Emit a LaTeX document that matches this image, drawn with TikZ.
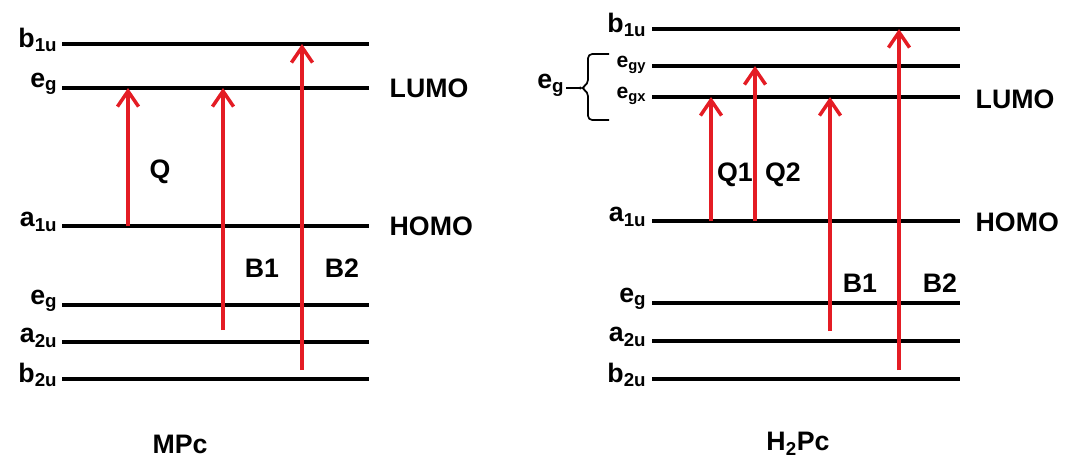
\documentclass[tikz,border=0pt]{standalone}
\usepackage{fontspec}
\setmainfont{Liberation Sans}
\usepackage{xcolor}
\usetikzlibrary{arrows.meta}

\definecolor{excred}{RGB}{228,28,36}

\tikzset{
  level/.style={line width=2.6pt, black},
  exc/.style={line width=2.5pt, draw=excred, -{Straight Barb[length=11pt, width=15pt]}},
  lab/.style={font=\fontsize{19}{22}\selectfont\bfseries, inner sep=1pt},
  smalllab/.style={font=\fontsize{15}{18}\selectfont\bfseries, inner sep=1pt},
}

\begin{document}
\begin{tikzpicture}[x=0.025cm, y=-0.025cm]
  \useasboundingbox (0,0) rectangle (1069,460);

  % MPc levels
  \foreach \n/\y/\t in {b1u/44/b\textsubscript{1u}, eg/88/e\textsubscript{g}, a1u/226/a\textsubscript{1u},
                        egl/305/e\textsubscript{g}, a2u/342/a\textsubscript{2u}, b2u/379/b\textsubscript{2u}} {
    \draw[level] (62,\y) coordinate (m\n) -- (369,\y);
    \node (ml\n) [lab, anchor=east, yshift=3pt] at (59,\y) {\t};
  }
  \node (mlumo) [lab, anchor=west] at (388,88) {LUMO};
  \node (mhomo) [lab, anchor=west] at (388,226) {HOMO};

  \coordinate (mQs) at (128,226);  \coordinate (mQe) at (128,88);
  \coordinate (mB1s) at (223,330); \coordinate (mB1e) at (223,88);
  \coordinate (mB2s) at (302,370); \coordinate (mB2e) at (302,44);
  \draw[exc] (mQs) -- (mQe);
  \draw[exc] (mB1s) -- (mB1e);
  \draw[exc] (mB2s) -- (mB2e);
  \node (mq) [lab] at (160,172) {Q};
  \node (mb1) [lab] at (262,268) {B1};
  \node (mb2) [lab] at (342,268) {B2};
  \node (mpc) [lab] at (180,444) {MPc};

  % H2Pc levels
  \foreach \n/\y/\t in {b1u/29/b\textsubscript{1u}, a1u/221/a\textsubscript{1u},
                        egl/303/e\textsubscript{g}, a2u/341/a\textsubscript{2u}, b2u/379/b\textsubscript{2u}} {
    \draw[level] (652,\y) coordinate (h\n) -- (960,\y);
    \node (hl\n) [lab, anchor=east, yshift=3pt] at (648,\y) {\t};
  }
  \foreach \n/\y/\t in {egy/66/e\textsubscript{gy}, egx/97/e\textsubscript{gx}} {
    \draw[level] (652,\y) coordinate (h\n) -- (960,\y);
    \node (hl\n) [smalllab, anchor=east, yshift=1pt] at (648,\y) {\t};
  }
  \node (hlumo) [lab, anchor=west] at (974,99) {LUMO};
  \node (hhomo) [lab, anchor=west] at (974,222) {HOMO};

  % brace for the split e_g pair
  \coordinate (brtip) at (581,88);
  \draw[line width=1.2pt, rounded corners=3pt] (609,54) -| (588,84) -- (brtip) -- (588,92) |- (609,120);
  \node (hleg) [lab, anchor=east] at (566,85) {e\textsubscript{g}};
  \draw[line width=1.8pt] (hleg.east |- brtip) -- (brtip);

  \coordinate (hQ1s) at (711,221); \coordinate (hQ1e) at (711,97);
  \coordinate (hQ2s) at (755,221); \coordinate (hQ2e) at (755,66);
  \coordinate (hB1s) at (830,331); \coordinate (hB1e) at (830,97);
  \coordinate (hB2s) at (899,370); \coordinate (hB2e) at (899,29);
  \draw[exc] (hQ1s) -- (hQ1e);
  \draw[exc] (hQ2s) -- (hQ2e);
  \draw[exc] (hB1s) -- (hB1e);
  \draw[exc] (hB2s) -- (hB2e);
  \node (hq1) [lab] at (735,175) {Q1};
  \node (hq2) [lab] at (783,175) {Q2};
  \node (hb1) [lab] at (860,283) {B1};
  \node (hb2) [lab] at (940,283) {B2};
  \node (h2pc) [lab] at (798,444) {H\textsubscript{2}Pc};
\end{tikzpicture}
\end{document}
